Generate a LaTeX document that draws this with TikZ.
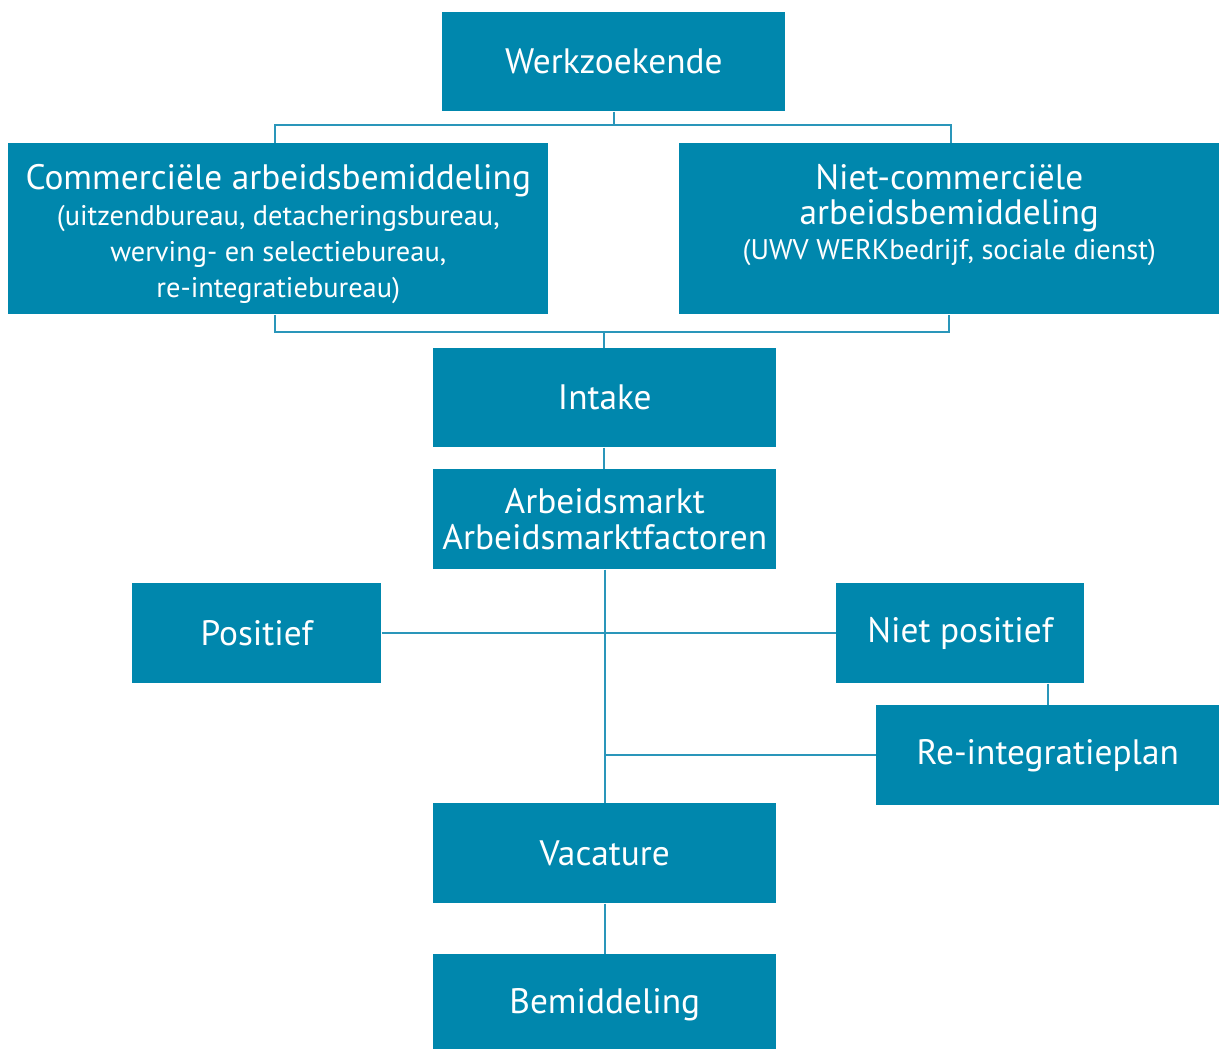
\documentclass[tikz,border=0pt]{standalone}
\usepackage{fontspec}
\setmainfont{PT Sans}
\definecolor{boxblue}{HTML}{0087AD}
\definecolor{lineblue}{HTML}{2A96BA}
\newcommand{\bigtxt}{\fontsize{26.5}{27}\selectfont}
\newcommand{\smalltxt}{\fontsize{21.3}{27}\selectfont}
\begin{document}
\begin{tikzpicture}[x=0.75pt,y=-0.75pt,
  bx/.style={fill=boxblue,draw=none,text=white,inner sep=0pt,align=center,anchor=north west,font=\bigtxt},
  txt/.style={text=white,inner sep=0pt,align=center,font=\bigtxt},
  conn/.style={draw=lineblue,line width=1.4pt}]
\path[use as bounding box] (0,0) rectangle (1219,1048);
\node[bx,minimum width=343*0.75pt,minimum height=99*0.75pt] (wz) at (442,12) {Werkzoekende};
\node[bx,minimum width=540*0.75pt,minimum height=171*0.75pt] (com) at (8,143) {};
\node[txt,yshift=-4pt] (comt) at (com.center)
  {{\bigtxt Commerciële arbeidsbemiddeling}\\[-0.5pt]
   {\smalltxt (uitzendbureau, detacheringsbureau,}\\
   {\smalltxt werving- en selectiebureau,}\\
   {\smalltxt re-integratiebureau)}};
\node[bx,minimum width=540*0.75pt,minimum height=171*0.75pt] (nc) at (679,143) {};
\node[txt,anchor=north] (nct) at (comt.north -| nc.center)
  {{\bigtxt Niet-commerciële}\\[-1pt]
   {\bigtxt arbeidsbemiddeling}\\[-0.5pt]
   {\smalltxt (UWV WERKbedrijf, sociale dienst)}};
\node[bx,minimum width=343*0.75pt,minimum height=99*0.75pt] (in) at (433,348) {Intake};
\node[bx,minimum width=343*0.75pt,minimum height=100*0.75pt] (am) at (433,469) {Arbeidsmarkt\\Arbeidsmarktfactoren};
\node[bx,minimum width=249*0.75pt,minimum height=100*0.75pt] (pos) at (132,583) {Positief};
\node[bx,minimum width=248*0.75pt,minimum height=100*0.75pt] (np) at (836,583) {Niet positief};
\node[bx,minimum width=343*0.75pt,minimum height=100*0.75pt] (rp) at (876,705) {Re-integratieplan};
\node[bx,minimum width=343*0.75pt,minimum height=100*0.75pt] (vac) at (433,803) {Vacature};
\node[bx,minimum width=343*0.75pt,minimum height=100*0.75pt] (bem) at (433,954) {Bemiddeling};
% top bracket
\draw[conn] (wz.south) -- (wz.south |- 0,125);
\draw[conn] (com.north -| 275,0) -- (275,125) -- (951,125) -- (nc.north -| 951,0);
% bottom bracket
\draw[conn] (com.south -| 275,0) -- (275,332) -- (949,332) -- (nc.south -| 949,0);
\draw[conn] (604,332) -- (in.north -| 604,0);
\draw[conn] (in.south -| 604,0) -- (am.north -| 604,0);
\draw[conn] (am.south -| 605,0) -- (vac.north -| 605,0);
\draw[conn] (pos.east) -- (np.west);
\draw[conn] (np.south -| 1048,0) -- (rp.north -| 1048,0);
\draw[conn] (rp.west -| 605,0) -- (rp.west);
\draw[conn] (vac.south -| 605,0) -- (bem.north -| 605,0);
\end{tikzpicture}
\end{document}
